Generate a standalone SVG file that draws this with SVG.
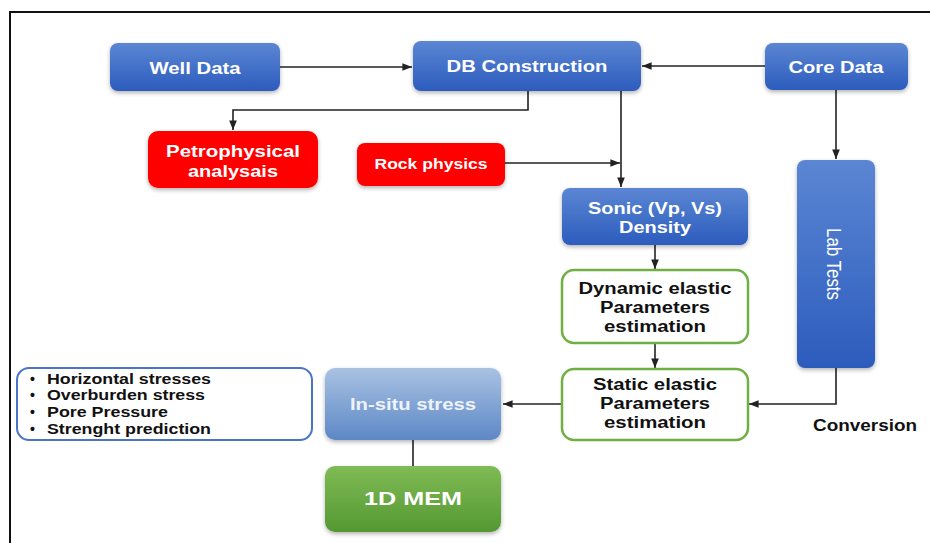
<svg xmlns="http://www.w3.org/2000/svg" width="930" height="543" viewBox="0 0 930 543">
<style>
.t{font-family:"Liberation Sans",Arial,sans-serif;font-weight:bold;text-anchor:middle}
.w{fill:#fff}
.k{fill:#111}
.ln{fill:none;stroke:#222;stroke-width:1.6}
.blue{fill:url(#gb)}
.red{fill:#fe0000}
.grn{fill:#fff;stroke:#6fb043;stroke-width:2.5}
</style>
<defs>
<linearGradient id="gb" x1="0" y1="0" x2="0" y2="1"><stop offset="0" stop-color="#5b86d3"/><stop offset="1" stop-color="#2c5cbd"/></linearGradient>
<linearGradient id="gl" x1="0" y1="0" x2="0" y2="1"><stop offset="0" stop-color="#a9c2e3"/><stop offset="1" stop-color="#5d88c6"/></linearGradient>
<linearGradient id="gg" x1="0" y1="0" x2="0" y2="1"><stop offset="0" stop-color="#7fbb55"/><stop offset="1" stop-color="#559832"/></linearGradient>
<filter id="sh" x="-10%" y="-10%" width="120%" height="130%"><feDropShadow dx="0" dy="2" stdDeviation="2" flood-color="#000" flood-opacity="0.3"/></filter>
<marker id="a" viewBox="0 0 10 10" refX="10" refY="5" markerWidth="6" markerHeight="6" orient="auto"><path d="M0,1 L10,5 L0,9 z" fill="#222"/></marker>
</defs>
<rect x="0" y="0" width="930" height="543" fill="#fff"/>
<path d="M10,560 V12 H940" fill="none" stroke="#111" stroke-width="2"/>
<g id="connectors">
<path class="ln" d="M280,67 H412" marker-end="url(#a)"/>
<path class="ln" d="M765,66 H642" marker-end="url(#a)"/>
<path class="ln" d="M528,91 V110 H233 V130" marker-end="url(#a)"/>
<path class="ln" d="M621,91 V187" marker-end="url(#a)"/>
<path class="ln" d="M505,163 H620" marker-end="url(#a)"/>
<path class="ln" d="M836,90 V159" marker-end="url(#a)"/>
<path class="ln" d="M655,245 V269" marker-end="url(#a)"/>
<path class="ln" d="M655,343 V368" marker-end="url(#a)"/>
<path class="ln" d="M836,368 V404 H749" marker-end="url(#a)"/>
<path class="ln" d="M562,404 H503" marker-end="url(#a)"/>
<path class="ln" d="M413,440 V466"/>
</g>
<g id="well-data"><rect x="110" y="43" width="170" height="48" rx="8" class="blue" filter="url(#sh)"/><text x="195" y="74" class="t w" font-size="17" textLength="91" lengthAdjust="spacingAndGlyphs">Well Data</text></g>
<g id="db-construction"><rect x="413" y="41" width="228" height="50" rx="8" class="blue" filter="url(#sh)"/><text x="527" y="72" class="t w" font-size="17" textLength="161" lengthAdjust="spacingAndGlyphs">DB Construction</text></g>
<g id="core-data"><rect x="765" y="43" width="143" height="47" rx="8" class="blue" filter="url(#sh)"/><text x="836" y="73" class="t w" font-size="17" textLength="95" lengthAdjust="spacingAndGlyphs">Core Data</text></g>
<g id="petrophysical"><rect x="148" y="131" width="170" height="57" rx="10" class="red" filter="url(#sh)"/><text x="233" y="157" class="t w" font-size="17" textLength="134" lengthAdjust="spacingAndGlyphs">Petrophysical</text><text x="233" y="177" class="t w" font-size="17" textLength="90" lengthAdjust="spacingAndGlyphs">analysais</text></g>
<g id="rock-physics"><rect x="357" y="143" width="148" height="43" rx="8" class="red" filter="url(#sh)"/><text x="431" y="169" class="t w" font-size="15" textLength="113" lengthAdjust="spacingAndGlyphs">Rock physics</text></g>
<g id="sonic"><rect x="562" y="188" width="186" height="57" rx="8" class="blue" filter="url(#sh)"/><text x="655" y="214" class="t w" font-size="17" textLength="134" lengthAdjust="spacingAndGlyphs">Sonic (Vp, Vs)</text><text x="655" y="233" class="t w" font-size="17" textLength="72" lengthAdjust="spacingAndGlyphs">Density</text></g>
<g id="dynamic"><rect x="562" y="270" width="186" height="73" rx="12" class="grn"/><text x="655" y="294" class="t k" font-size="16" textLength="153" lengthAdjust="spacingAndGlyphs">Dynamic elastic</text><text x="655" y="313" class="t k" font-size="16" textLength="110" lengthAdjust="spacingAndGlyphs">Parameters</text><text x="655" y="332" class="t k" font-size="16" textLength="102" lengthAdjust="spacingAndGlyphs">estimation</text></g>
<g id="static"><rect x="562" y="369" width="186" height="71" rx="12" class="grn"/><text x="655" y="390" class="t k" font-size="16" textLength="124" lengthAdjust="spacingAndGlyphs">Static elastic</text><text x="655" y="409" class="t k" font-size="16" textLength="110" lengthAdjust="spacingAndGlyphs">Parameters</text><text x="655" y="428" class="t k" font-size="16" textLength="102" lengthAdjust="spacingAndGlyphs">estimation</text></g>
<g id="lab-tests"><rect x="797" y="160" width="78" height="208" rx="8" class="blue" filter="url(#sh)"/><text x="0" y="0" transform="translate(827,264) rotate(90)" font-family="Liberation Sans,Arial,sans-serif" font-size="20" fill="#fff" text-anchor="middle" textLength="72" lengthAdjust="spacingAndGlyphs">Lab Tests</text></g>
<text x="865" y="431" class="t k" font-size="16" textLength="104" lengthAdjust="spacingAndGlyphs">Conversion</text>
<g id="in-situ"><rect x="325" y="368" width="176" height="72" rx="10" fill="url(#gl)" filter="url(#sh)"/><text x="413" y="410" class="t" fill="#eef3fb" font-size="16" textLength="126" lengthAdjust="spacingAndGlyphs">In-situ stress</text></g>
<g id="mem"><rect x="325" y="466" width="176" height="66" rx="10" fill="url(#gg)" filter="url(#sh)"/><text x="413" y="505" class="t w" font-size="19" textLength="98" lengthAdjust="spacingAndGlyphs">1D MEM</text></g>
<g id="list"><rect x="17" y="368" width="295" height="72" rx="12" fill="#fff" stroke="#4a74c9" stroke-width="2"/>
<g font-family="Liberation Sans,Arial,sans-serif" font-weight="bold" font-size="14" fill="#111">
<text x="30" y="384">•</text><text x="47" y="384" textLength="164" lengthAdjust="spacingAndGlyphs">Horizontal stresses</text>
<text x="30" y="400">•</text><text x="47" y="400" textLength="158" lengthAdjust="spacingAndGlyphs">Overburden stress</text>
<text x="30" y="417">•</text><text x="47" y="417" textLength="121" lengthAdjust="spacingAndGlyphs">Pore Pressure</text>
<text x="30" y="434">•</text><text x="47" y="434" textLength="164" lengthAdjust="spacingAndGlyphs">Strenght prediction</text>
</g></g>
</svg>
